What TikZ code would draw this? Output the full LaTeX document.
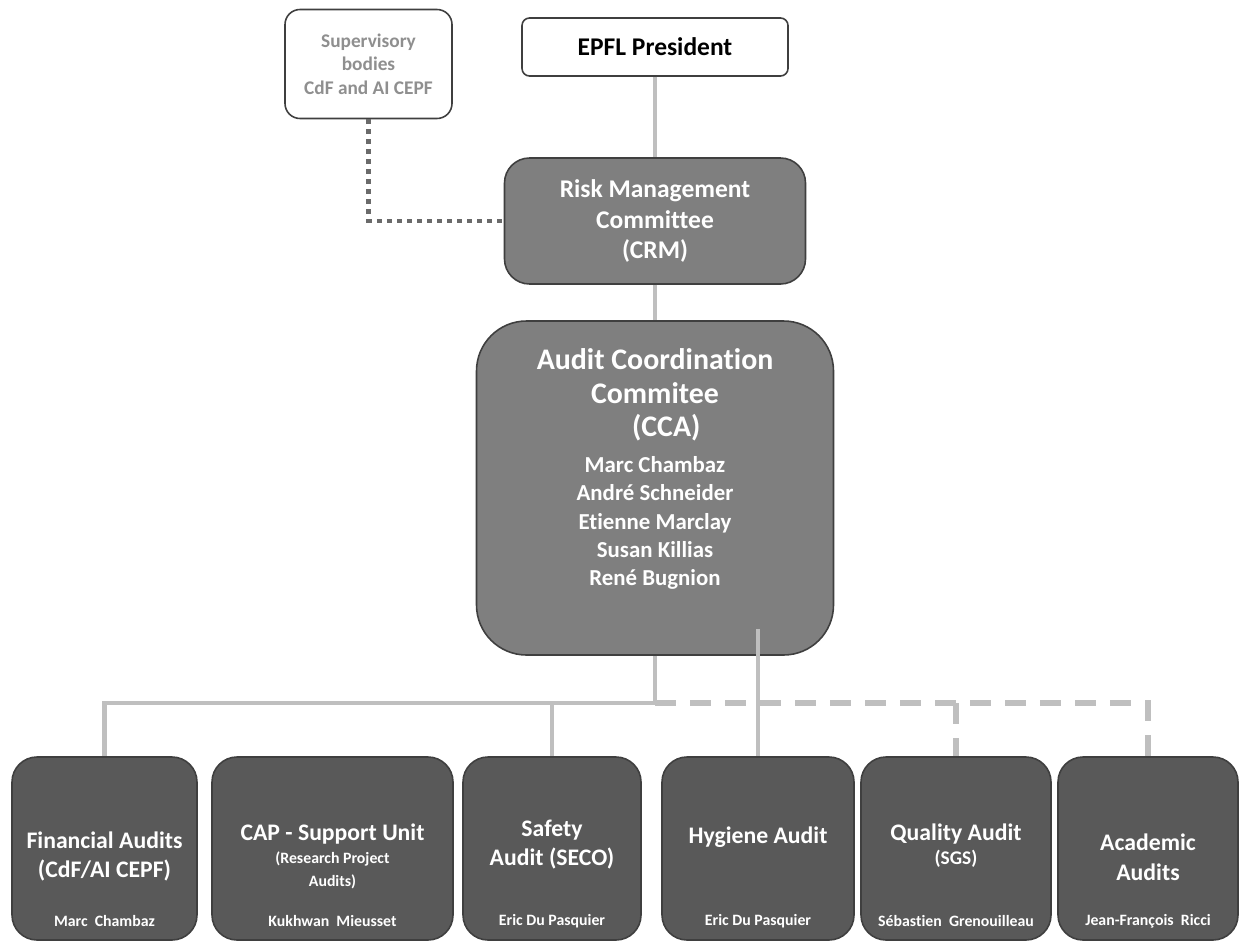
\documentclass[tikz,border=0pt]{standalone}
\usepackage{fontspec}
\setmainfont{Carlito}[Ligatures=NoCommon]
\usepackage{xcolor}
\definecolor{linkgray}{HTML}{BFBFBF}
\definecolor{midgray}{HTML}{7F7F7F}
\definecolor{lowgray}{HTML}{595959}
\definecolor{edgegray}{HTML}{3F3F3F}
\definecolor{supgray}{HTML}{8F8F8F}
\definecolor{dotgray}{HTML}{6A6A6A}

\begin{document}
\begin{tikzpicture}[
    whitebox/.style={draw=edgegray, line width=0.9pt, fill=white, align=center},
    midbox/.style={draw=edgegray, line width=0.9pt, fill=midgray, text=white, align=center},
    lowbox/.style={draw=edgegray, line width=0.9pt, fill=lowgray, rounded corners=0.5cm, minimum height=3.66cm},
    lowtitle/.style={text=white, align=center, font=\fontsize{13.5}{17}\selectfont\bfseries},
    lowname/.style={text=white, font=\fontsize{9}{11}\selectfont\bfseries},
    link/.style={draw=linkgray, line width=2.6pt},
    duelink/.style={draw=linkgray, line width=3pt, dash pattern=on 0.42cm off 0.28cm},
    suplink/.style={draw=dotgray, line width=2.6pt, dash pattern=on 2.6pt off 3.1pt},
]
    \useasboundingbox (0,0) rectangle (24.8,-18.82);

    \node[whitebox, rounded corners=0.3cm, minimum width=3.34cm, minimum height=2.18cm, text=supgray,
        font=\fontsize{11}{13.4}\selectfont\bfseries] (sup) at (7.37,-1.28) {Supervisory\\bodies\\CdF and AI CEPF};
    \node[whitebox, rounded corners=0.15cm, minimum width=5.32cm, minimum height=1.16cm,
        font=\fontsize{14.5}{17}\selectfont\bfseries] (pres) at (13.1,-0.94) {EPFL President};
    \node[midbox, rounded corners=0.5cm, minimum width=6.02cm, minimum height=2.52cm,
        font=\fontsize{14.5}{17.6}\selectfont\bfseries] (crm) at (13.1,-4.42) {Risk Management\\Committee\\(CRM)};
    \node[midbox, rounded corners=1cm, minimum width=7.14cm, minimum height=6.68cm] (cca) at (13.1,-9.76) {};
    \node[text=white, align=center, font=\fontsize{17}{19}\selectfont\bfseries] (ccaHead) at (13.1,-7.9)
        {Audit Coordination\\Commitee\\\hspace*{0.45cm}(CCA)};
    \node[text=white, align=center, font=\fontsize{13}{16}\selectfont\bfseries] (ccaMembers) at (13.1,-10.46)
        {Marc Chambaz\\André Schneider\\Etienne Marclay\\Susan Killias\\René Bugnion};

    \node[lowbox, minimum width=3.70cm] (fin) at (2.09,-16.97) {};
    \node[lowbox, minimum width=4.82cm] (cap) at (6.65,-16.97) {};
    \node[lowbox, minimum width=3.56cm] (saf) at (11.04,-16.97) {};
    \node[lowbox, minimum width=3.84cm] (hyg) at (15.16,-16.97) {};
    \node[lowbox, minimum width=3.80cm] (qua) at (19.12,-16.97) {};
    \node[lowbox, minimum width=3.60cm] (aca) at (22.96,-16.97) {};

    \node[lowtitle] (finTitle) at ([yshift=-0.16cm]fin.center) {Financial Audits\\(CdF/AI CEPF)};
    \node[lowtitle] (capTitle) at ([yshift=-0.16cm]cap.center) {CAP - Support Unit\\[-4pt]{\fontsize{9}{11}\selectfont (Research Project}\\[-4pt]{\fontsize{9}{11}\selectfont Audits)}};
    \node[lowtitle] (safTitle) at ([yshift=0.08cm]saf.center) {Safety\\Audit (SECO)};
    \node[lowtitle] (hygTitle) at ([yshift=0.22cm]hyg.center) {Hygiene Audit};
    \node[lowtitle] (quaTitle) at ([yshift=0.06cm]qua.center) {Quality Audit\\[-3pt]{\fontsize{11}{13}\selectfont (SGS)}};
    \node[lowtitle] (acaTitle) at ([yshift=-0.18cm]aca.center) {Academic\\Audits};

    \node[lowname] (finName) at ([yshift=0.4cm]fin.south) {Marc\ \ Chambaz};
    \node[lowname] (capName) at ([yshift=0.4cm]cap.south) {Kukhwan\ \ Mieusset};
    \node[lowname] (safName) at ([yshift=0.4cm]saf.south) {Eric Du Pasquier};
    \node[lowname] (hygName) at ([yshift=0.4cm]hyg.south) {Eric Du Pasquier};
    \node[lowname] (quaName) at ([yshift=0.4cm]qua.south) {Sébastien\ \ Grenouilleau};
    \node[lowname] (acaName) at ([yshift=0.4cm]aca.south) {Jean-François\ \ Ricci};

    \coordinate (bus) at (13.1,-14.06);
    \draw[link] (pres) -- (crm);
    \draw[link] (crm) -- (cca);
    \draw[suplink] (sup.south) |- (crm.west);
    \draw[duelink] (bus) -- (bus -| aca.north) -- (aca.north);
    \draw[duelink] (bus -| qua.north) -- (qua.north);
    \draw[link] (cca.south) -- (bus) -| (fin.north);
    \draw[link] (bus -| saf.north) -- (saf.north);
    \path (hyg.north |- cca.south) ++(0,0.54) coordinate (hygStart);
    \draw[link] (hygStart) -- (hyg.north);
\end{tikzpicture}
\end{document}
